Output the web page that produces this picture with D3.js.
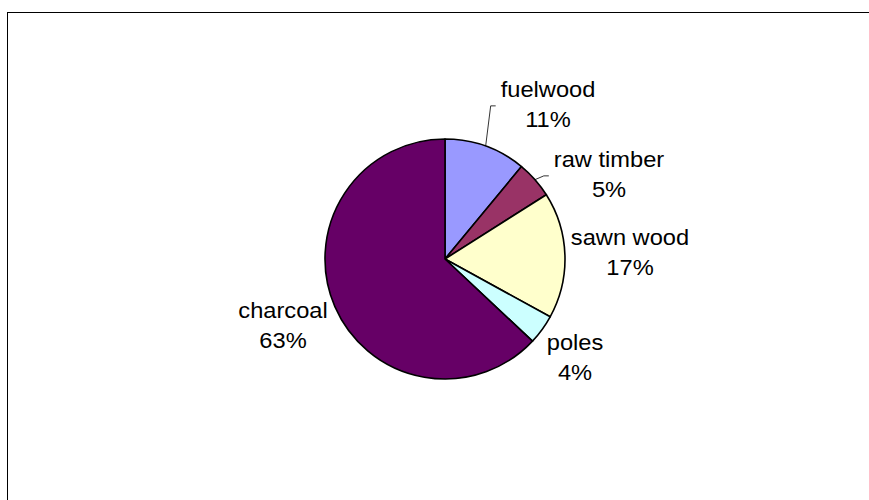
<!DOCTYPE html>
<html>
<head>
<meta charset="utf-8">
<script src="https://cdn.jsdelivr.net/npm/d3@7/dist/d3.min.js"></script>
<style>
  html, body { margin: 0; padding: 0; background: #fff; }
  svg { display: block; }
  text { font-family: Arial, "Liberation Sans", sans-serif; }
</style>
</head>
<body>
<svg id="chart" width="869" height="500"></svg>
<script>
// ---- data ----
const categories = ["fuelwood", "raw timber", "sawn wood", "poles", "charcoal"];
const shares = [11, 5, 17, 4, 63];
const colors = ["#9999FF", "#993366", "#FFFFCC", "#CCFFFF", "#660066"];

// ---- layout ----
const W = 869, H = 500;
const cx = 445, cy = 259, R = 120;

const svg = d3.select("#chart");
svg.append("rect").attr("width", W).attr("height", H).attr("fill", "#fff");

// frame
svg.append("rect")
  .attr("x", 7.5).attr("y", 12.5)
  .attr("width", 870).attr("height", 500)
  .attr("fill", "none").attr("stroke", "#000").attr("stroke-width", 1);

const data = categories.map((c, i) => ({ name: c, value: shares[i], color: colors[i] }));

const pie = d3.pie().value(d => d.value).sort(null);
const arcs = pie(data);
const arc = d3.arc().innerRadius(0).outerRadius(R);

const g = svg.append("g").attr("transform", `translate(${cx},${cy})`);
g.selectAll("path.slice")
  .data(arcs)
  .join("path")
  .attr("class", "slice")
  .attr("d", arc)
  .attr("fill", d => d.data.color)
  .attr("stroke", "#000")
  .attr("stroke-width", 1.6)
  .attr("stroke-linejoin", "round");

// label positions
const labelPos = {
  "fuelwood":   { x: 548, y: 97 },
  "raw timber": { x: 609, y: 167 },
  "sawn wood":  { x: 630, y: 245 },
  "poles":      { x: 575, y: 350 },
  "charcoal":   { x: 283, y: 318 }
};
const leaders = { "fuelwood": true, "raw timber": true };
const fmt = d3.format(".0f");

arcs.forEach(a => {
  const p = labelPos[a.data.name];
  const lg = svg.append("g").attr("transform", `translate(${p.x},${p.y}) scale(1.1,1)`);
  const t = lg.append("text")
    .attr("text-anchor", "middle")
    .attr("font-size", 21.5)
    .attr("fill", "#000");
  t.append("tspan").attr("x", 0).attr("y", 0).text(a.data.name);
  t.append("tspan").attr("x", 0).attr("y", 30).text(fmt(a.data.value) + "%");

  if (leaders[a.data.name]) {
    const bb = t.node().getBBox();
    const left = p.x + bb.x * 1.1;
    const midY = p.y + bb.y + bb.height / 2 + 1;
    const mid = (a.startAngle + a.endAngle) / 2;
    const sx = cx + R * Math.sin(mid), sy = cy - R * Math.cos(mid);
    const ex = left - 5;
    const bx = ex - 5;
    svg.append("path")
      .attr("d", `M${sx},${sy} L${bx},${midY} L${ex},${midY}`)
      .attr("fill", "none")
      .attr("stroke", "#000")
      .attr("stroke-width", 0.8);
  }
});
</script>
</body>
</html>
